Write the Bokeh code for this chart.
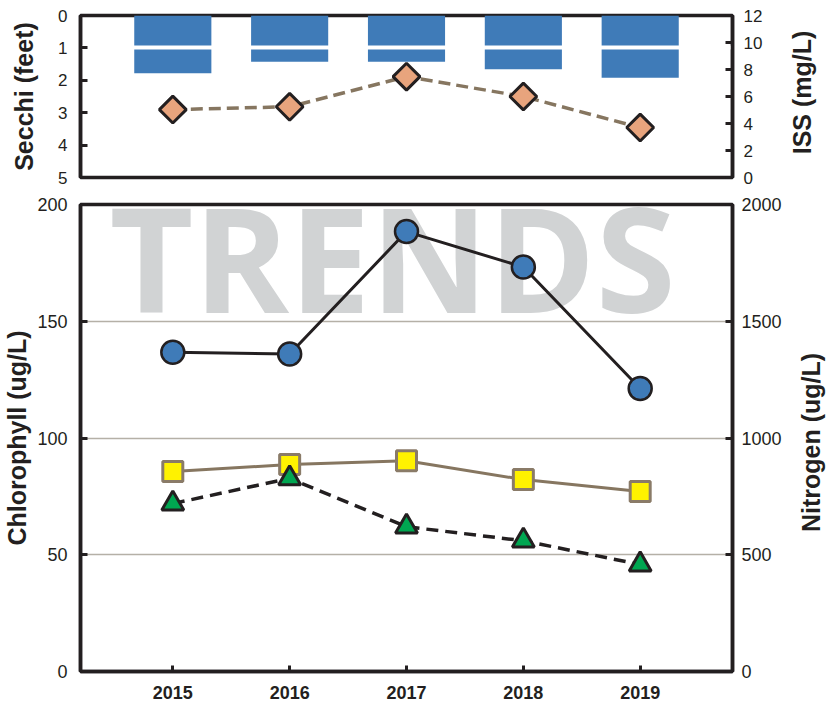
import numpy as np
from bokeh.plotting import figure
from bokeh.models import Range1d, LinearAxis, FixedTicker, Label
from bokeh.layouts import column, row
from bokeh.embed import file_html
from bokeh.resources import INLINE

# ---------------- data ----------------
years = [2015, 2016, 2017, 2018, 2019]
secchi_ft = [1.78, 1.43, 1.43, 1.66, 1.92]          # blue bars (top, left axis, inverted)
iss_mgl = [5.03, 5.24, 7.47, 6.0, 3.7]              # diamonds (top, right axis)
circle_ugl = [136.7, 136.0, 188.4, 173.2, 121.2]    # blue circles (bottom, left axis)
nitrogen_ugl = [857, 886, 903, 822, 771]            # yellow squares (bottom, right axis)
triangle_ugl = [71.9, 82.7, 62.0, 56.0, 45.8]       # green triangles (bottom, left axis)

secchi_ticks = [0, 1, 2, 3, 4, 5]
iss_ticks = [0, 2, 4, 6, 8, 10, 12]
chl_ticks = [0, 50, 100, 150, 200]
n_ticks = [0, 500, 1000, 1500, 2000]
chl_gridlines = [50, 100, 150]
secchi_gridlines = [1]

DARK = "#231f20"
BLUE = "#3f7bb8"
SALMON = "#e8a47d"
TAUPE = "#867660"
YELLOW = "#fff200"
GREEN = "#00a651"
GRID = "#b5b0a7"
WATER = "#d1d3d4"
FONT = "Liberation Sans"

W_MAIN = 784
W_SIDE = 50
H_TOP = 188
H_BOT = 516
X_RANGE = (2014.21, 2019.79)


def style_axis(ax, size, bold=False, standoff=13):
    ax.axis_line_color = DARK
    ax.axis_line_width = 3.5
    ax.major_tick_line_color = DARK
    ax.major_tick_line_width = 3
    ax.major_tick_in = 7
    ax.major_tick_out = 0
    ax.minor_tick_line_color = None
    ax.major_label_text_font = FONT
    ax.major_label_text_font_size = f"{size}px"
    ax.major_label_text_color = DARK
    ax.major_label_text_font_style = "bold" if bold else "normal"
    ax.major_label_standoff = standoff


def set_title(ax, text, standoff):
    ax.axis_label = text
    ax.axis_label_text_font = FONT
    ax.axis_label_text_font_style = "bold"
    ax.axis_label_text_font_size = "25px"
    ax.axis_label_text_color = DARK
    ax.axis_label_standoff = standoff


def side_title(text, height, x, y):
    s = figure(width=W_SIDE, height=height, x_range=Range1d(0, 1), y_range=Range1d(0, 1),
               output_backend="svg", toolbar_location=None,
               min_border=0, min_border_left=0, min_border_right=0,
               min_border_top=0, min_border_bottom=0)
    s.axis.visible = False
    s.grid.visible = False
    s.outline_line_color = None
    s.add_layout(Label(x=x, y=y, x_units="screen", y_units="screen", text=text,
                       angle=np.pi / 2, text_align="center", text_baseline="middle",
                       text_font=FONT, text_font_style="bold", text_font_size="25px",
                       text_color=DARK))
    return s


# ---------------- top panel ----------------
top = figure(width=W_MAIN, height=H_TOP, x_range=Range1d(*X_RANGE), y_range=Range1d(5, 0),
             output_backend="svg", toolbar_location=None,
             min_border_left=77, min_border_right=49, min_border_top=15, min_border_bottom=11)
top.extra_y_ranges = {"iss": Range1d(0, 12)}
top.xaxis.visible = False
top.grid.visible = False
top.outline_line_color = DARK
top.outline_line_width = 3.5

top.yaxis.ticker = FixedTicker(ticks=secchi_ticks)
style_axis(top.yaxis[0], 17, standoff=13)
set_title(top.yaxis[0], "Secchi (feet)", 17)
iss_axis = LinearAxis(y_range_name="iss", ticker=FixedTicker(ticks=iss_ticks))
style_axis(iss_axis, 17, standoff=11)
top.add_layout(iss_axis, "right")

top.vbar(x=years, top=0, bottom=secchi_ft, width=0.66, fill_color=BLUE, line_color=None)
top.hspan(y=secchi_gridlines, line_color="white", line_width=4)
top.line(years, iss_mgl, y_range_name="iss", line_color=TAUPE, line_width=3.5, line_dash="12 6")
top.scatter(years, iss_mgl, y_range_name="iss", marker="square", angle=np.pi / 4, size=19,
            fill_color=SALMON, line_color=DARK, line_width=3)

# ---------------- bottom panel ----------------
bot = figure(width=W_MAIN, height=H_BOT, x_range=Range1d(*X_RANGE), y_range=Range1d(0, 200),
             output_backend="svg", toolbar_location=None,
             min_border_left=77, min_border_right=49, min_border_top=16, min_border_bottom=33)
bot.extra_y_ranges = {"n": Range1d(0, 2000)}
bot.outline_line_color = DARK
bot.outline_line_width = 3.5
bot.xgrid.visible = False
bot.ygrid.ticker = FixedTicker(ticks=chl_gridlines)
bot.ygrid.grid_line_color = GRID
bot.ygrid.grid_line_width = 1.5

bot.xaxis.ticker = FixedTicker(ticks=years)
style_axis(bot.xaxis[0], 18, bold=True, standoff=14)
bot.xaxis.major_tick_in = 6
bot.yaxis.ticker = FixedTicker(ticks=chl_ticks)
style_axis(bot.yaxis[0], 18, standoff=13)
set_title(bot.yaxis[0], "Chlorophyll (ug/L)", 3)
n_axis = LinearAxis(y_range_name="n", ticker=FixedTicker(ticks=n_ticks))
style_axis(n_axis, 18, standoff=9)
bot.add_layout(n_axis, "right")

bot.add_layout(Label(x=312, y=415, x_units="screen", y_units="screen", text="TRENDS",
                     text_align="center", text_baseline="alphabetic",
                     text_font="Open Sans", text_font_style="bold", text_font_size="145px",
                     text_color=WATER, level="underlay"))

bot.line(years, nitrogen_ugl, y_range_name="n", line_color=TAUPE, line_width=3)
bot.scatter(years, nitrogen_ugl, y_range_name="n", marker="square", size=20,
            fill_color=YELLOW, line_color="#8a7b68", line_width=3)
bot.line(years, triangle_ugl, line_color=DARK, line_width=3.5, line_dash="12 7")
bot.scatter(years, triangle_ugl, marker="triangle", size=22,
            fill_color=GREEN, line_color=DARK, line_width=3)
bot.line(years, circle_ugl, line_color=DARK, line_width=3)
bot.scatter(years, circle_ugl, marker="circle", size=23,
            fill_color=BLUE, line_color=DARK, line_width=2.5)

# ---------------- right-hand titles ----------------
iss_title = side_title("ISS (mg/L)", H_TOP, 17, 96)
n_title = side_title("Nitrogen (ug/L)", H_BOT, 26, 262)

layout = row(column(top, bot, spacing=0), column(iss_title, n_title, spacing=0), spacing=0)

open("out.html", "w").write(file_html(layout, INLINE))
